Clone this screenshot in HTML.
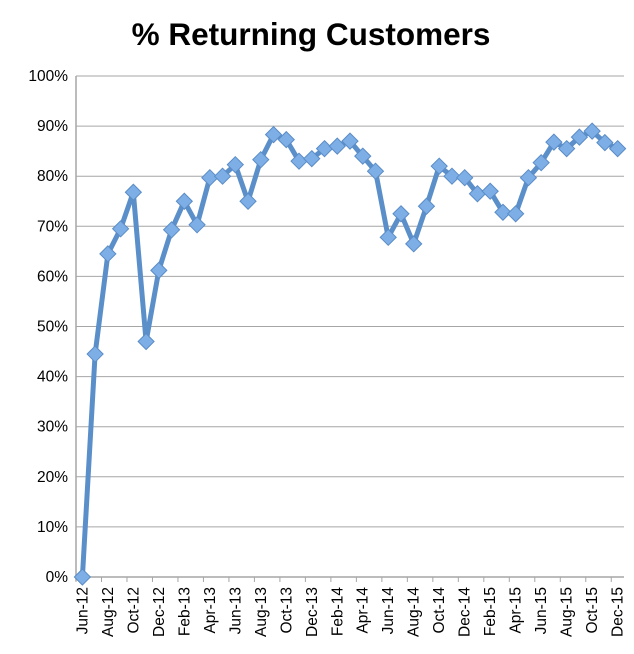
<!DOCTYPE html>
<html><head><meta charset="utf-8"><style>
body{margin:0;background:#fff;}
svg{display:block;font-family:"Liberation Sans",sans-serif;}
</style></head><body>
<svg id="chart" width="634" height="654">
<text x="311" y="45" text-anchor="middle" font-size="31.5" font-weight="bold" fill="#000">% Returning Customers</text>
<g id="grid"></g><g id="axes"></g><g id="series"></g>
</svg>
<script>
const categories=["Jun-12","Jul-12","Aug-12","Sep-12","Oct-12","Nov-12","Dec-12","Jan-13","Feb-13","Mar-13","Apr-13","May-13","Jun-13","Jul-13","Aug-13","Sep-13","Oct-13","Nov-13","Dec-13","Jan-14","Feb-14","Mar-14","Apr-14","May-14","Jun-14","Jul-14","Aug-14","Sep-14","Oct-14","Nov-14","Dec-14","Jan-15","Feb-15","Mar-15","Apr-15","May-15","Jun-15","Jul-15","Aug-15","Sep-15","Oct-15","Nov-15","Dec-15"];
const values=[0,44.5,64.5,69.5,76.8,47,61.2,69.3,75,70.3,79.7,80,82.3,75,83.3,88.3,87.3,83,83.5,85.5,86,87,84,81,67.8,72.5,66.5,74,82,80,79.7,76.5,77,72.8,72.5,79.7,82.7,86.8,85.5,87.8,89,86.7,85.5];
const yTicks=[0,10,20,30,40,50,60,70,80,90,100];
const NS="http://www.w3.org/2000/svg";
const L=76,R=624,T=76,B=577;
const step=(R-L)/categories.length;
const xs=i=>L+step*(i+0.5);
const ys=v=>B-(v/100)*(B-T);
function mk(tag,attrs,parent){const e=document.createElementNS(NS,tag);for(const k in attrs)e.setAttribute(k,attrs[k]);parent.appendChild(e);return e;}
const grid=document.getElementById('grid'),axes=document.getElementById('axes'),ser=document.getElementById('series');
yTicks.forEach(t=>{
  const y=ys(t);
  if(t>0){const g=mk('line',{x1:L,x2:R,y1:y,y2:y,stroke:'#a6a6a6','stroke-width':1},grid);
  
  }
  const lb=mk('text',{x:L-8,y:y+5,'text-anchor':'end','font-size':15.5,fill:'#000'},axes);
  lb.textContent=t+'%';
  
  
});
const ya=mk('line',{x1:L,x2:L,y1:T,y2:B+4,stroke:'#a6a6a6','stroke-width':1.5},axes);


const xa=mk('line',{x1:L,x2:R,y1:B,y2:B,stroke:'#a6a6a6','stroke-width':1.5},axes);


categories.forEach((c,i)=>{
  if(i%2===0){
    const tx=L+step*i;
    const tk=mk('line',{x1:tx,x2:tx,y1:B,y2:B+5,stroke:'#a6a6a6'},axes);
    
    
    const x=xs(i);
    const lb=mk('text',{x:0,y:0,'text-anchor':'end','font-size':15.5,fill:'#000',transform:`translate(${x+5},${B+10}) rotate(-90)`},axes);
    lb.textContent=c;
    
    
  }
});
const pts=values.map((v,i)=>xs(i).toFixed(1)+','+ys(v).toFixed(1)).join(' ');
const line=mk('polyline',{points:pts,fill:'none',stroke:'#5b8fc9','stroke-width':5,'stroke-linejoin':'round'},ser);


values.forEach((v,i)=>{
  const x=xs(i),y=ys(v),s=8;
  const m=mk('polygon',{points:`${x},${y-s} ${x+s},${y} ${x},${y+s} ${x-s},${y}`,fill:'#7eaee6',stroke:'#5a8cc6','stroke-width':1},ser);
  
  
});
</script>
</body></html>
